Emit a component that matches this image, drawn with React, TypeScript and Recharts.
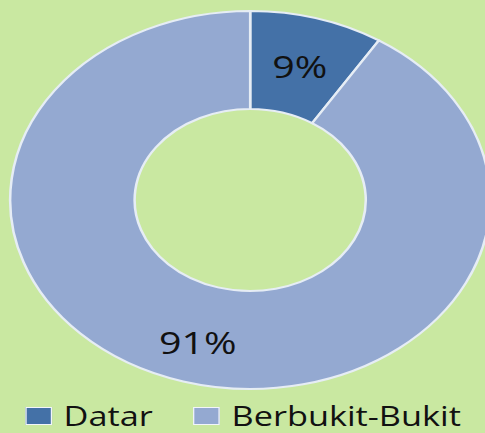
import { PieChart, Pie, Cell, Legend } from 'recharts'

const categories = ['Datar', 'Berbukit-Bukit']
const values = [9, 91]
const labels = ['9%', '91%']

const COLORS = ['#4471a7', '#94a9d1']
const BG = '#c9e8a1'
const STRETCH = 1.27
const W = Math.round(485 / STRETCH)
const H = 433

const data = categories.map((name, i) => ({ name, value: values[i], label: labels[i] }))

const RAD = Math.PI / 180

function renderLabel(props: any) {
  const { cx, cy, midAngle, innerRadius, outerRadius, index } = props
  const r = (innerRadius + outerRadius) / 2 + (index === 1 ? 8 : 0)
  const x = cx + r * Math.cos(-midAngle * RAD)
  const y = cy + r * Math.sin(-midAngle * RAD)
  return (
    <text
      x={x}
      y={y}
      fill="#111"
      fontSize={31}
      fontFamily="'Open Sans', sans-serif"
      textAnchor="middle"
      dominantBaseline="central"
    >
      {data[index].label}
    </text>
  )
}

function LegendContent() {
  return (
    <div style={{ display: 'flex', alignItems: 'center', fontFamily: "'Open Sans', sans-serif", fontSize: 27, color: '#111', lineHeight: '30px' }}>
      {data.map((d, i) => (
        <div key={d.name} style={{ display: 'flex', alignItems: 'center', marginLeft: i === 0 ? 20 : 32 }}>
          <span
            style={{
              display: 'inline-block',
              width: 19,
              height: 16,
              background: COLORS[i],
              border: '1.5px solid #f2f5fa',
              marginRight: 9,
            }}
          />
          <span>{d.name}</span>
        </div>
      ))}
    </div>
  )
}

export default function App() {
  return (
    <div style={{ position: 'fixed', left: 0, top: 0, width: 485, height: H, background: BG, overflow: 'hidden' }}>
      <div style={{ width: W, height: H, transform: `scaleX(${STRETCH})`, transformOrigin: '0 0' }}>
        <PieChart width={W} height={H} margin={{ top: 0, right: 0, bottom: 0, left: 0 }}>
          <Pie
            data={data}
            dataKey="value"
            nameKey="name"
            cx={197}
            cy={200}
            innerRadius={91}
            outerRadius={189}
            startAngle={90}
            endAngle={-270}
            stroke="#e6edf5"
            strokeWidth={2}
            label={renderLabel}
            labelLine={false}
            isAnimationActive={false}
          >
            {data.map((d, i) => (
              <Cell key={d.name} fill={COLORS[i]} />
            ))}
          </Pie>
          <Legend
            content={<LegendContent />}
            verticalAlign="bottom"
            wrapperStyle={{ left: 0, bottom: 2, width: W }}
          />
        </PieChart>
      </div>
    </div>
  )
}
